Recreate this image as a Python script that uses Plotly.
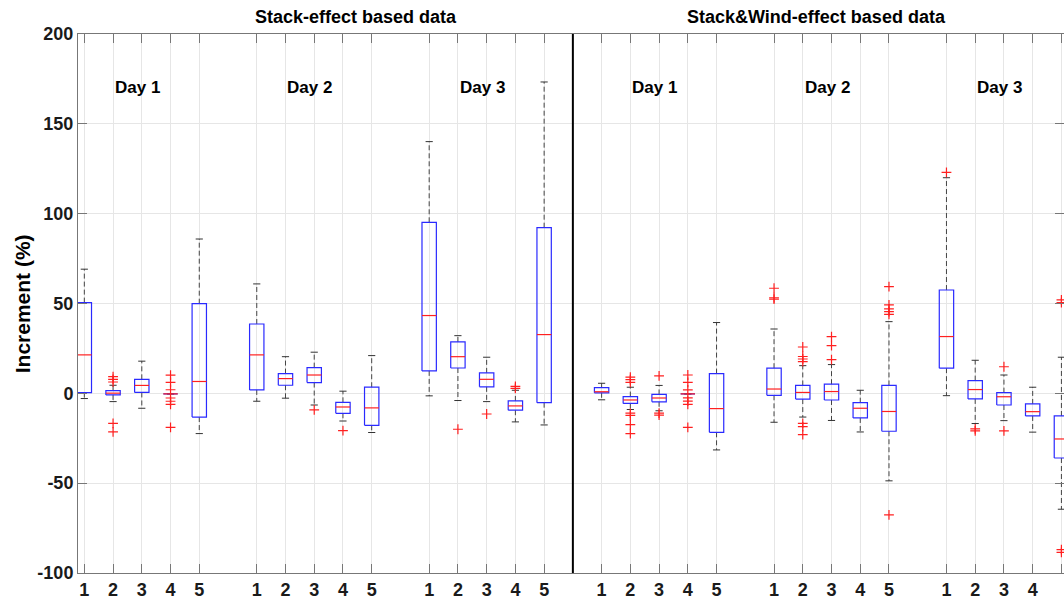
import plotly.graph_objects as go

# ---------------- data ----------------
panel_titles = ["Stack-effect based data", "Stack&Wind-effect based data"]
day_labels = ["Day 1", "Day 2", "Day 3"]
tick_labels = ["1", "2", "3", "4", "5"]

# 30 boxes: panel 1 (days 1-3, boxes 1-5), then panel 2 (days 1-3, boxes 1-5)
upper_whisker = [69.1, 4.5, 17.9, -0.3, 85.9,
                 60.9, 20.4, 22.9, 1.2, 21.0,
                 140.1, 32.1, 20.1, 1.7, 173.3,
                 5.6, 3.4, 4.4, -0.3, 39.4,
                 35.8, 15.4, 16.0, 1.7, 39.9,
                 120.0, 18.4, 10.2, 3.4, 20.1]
q3 = [50.5, 1.5, 7.8, -0.3, 49.9,
      38.6, 11.0, 14.3, -5.0, 3.4,
      95.2, 28.6, 11.4, -4.2, 92.2,
      3.2, -1.8, -0.6, -0.3, 11.0,
      14.0, 4.4, 5.1, -5.2, 4.4,
      57.5, 7.1, 0.4, -5.9, -12.6]
median = [21.4, 0.1, 4.4, -0.3, 6.6,
          21.4, 8.2, 10.2, -7.6, -8.1,
          43.3, 20.4, 7.8, -7.0, 32.7,
          0.9, -3.7, -2.6, -0.3, -8.5,
          2.4, 0.5, 1.0, -8.3, -10.1,
          31.6, 2.1, -1.9, -10.2, -25.4]
q1 = [0.4, -0.9, 0.5, -0.3, -13.2,
      1.9, 4.5, 6.0, -11.1, -17.8,
      12.5, 14.1, 3.6, -9.4, -5.2,
      0.3, -5.6, -4.7, -0.3, -21.7,
      -1.1, -3.2, -3.7, -13.7, -21.1,
      14.0, -3.1, -6.5, -12.6, -36.0]
lower_whisker = [-2.9, -4.6, -8.3, -0.3, -22.4,
                 -4.4, -2.7, -6.5, -15.4, -21.8,
                 -1.4, -4.0, -4.6, -15.9, -17.6,
                 -3.6, -9.0, -9.7, -0.3, -31.5,
                 -16.1, -13.2, -15.1, -21.5, -48.7,
                 -1.3, -16.8, -15.2, -21.6, -64.5]
outliers = [[], [9.3, 7.8, 6.3, -16.7, -21.5], [], [10.1, 6.1, 2.0, -2.6, -4.4, -6.2, -19.0], [],
            [], [], [-9.2], [-20.8], [],
            [], [-20.0], [-11.5], [3.9, 2.8], [],
            [], [9.0, 7.6, 6.1, -11.0, -12.3, -17.4, -22.4], [9.7, -11.0, -12.1],
            [10.2, 6.1, 1.9, -2.5, -4.3, -6.2, -19.0], [],
            [58.5, 53.2, 52.4], [25.8, 20.5, 19.1, 17.7, -16.7, -18.5, -23.0], [31.6, 26.6, 18.8], [],
            [59.4, 49.2, 47.0, 45.5, 44.0, -67.7],
            [123.0], [-19.8, -20.9], [14.8, -20.9], [], [52.0, 50.5, -87.0, -88.5]]

# ---------------- layout of positions ----------------
n_per_group = 5
group_step = 6
positions = [g * group_step + i + 1 for g in range(6) for i in range(n_per_group)]
half_w = 0.25
cap_w = 0.125

box_x, box_y = [], []
med_x, med_y = [], []
wh_x, wh_y = [], []
cap_x, cap_y = [], []
out_x, out_y = [], []
for k, p in enumerate(positions):
    box_x += [p - half_w, p + half_w, p + half_w, p - half_w, p - half_w, None]
    box_y += [q1[k], q1[k], q3[k], q3[k], q1[k], None]
    med_x += [p - half_w, p + half_w, None]
    med_y += [median[k], median[k], None]
    wh_x += [p, p, None, p, p, None]
    wh_y += [q3[k], upper_whisker[k], None, q1[k], lower_whisker[k], None]
    cap_x += [p - cap_w, p + cap_w, None, p - cap_w, p + cap_w, None]
    cap_y += [upper_whisker[k], upper_whisker[k], None, lower_whisker[k], lower_whisker[k], None]
    for v in outliers[k]:
        out_x.append(p)
        out_y.append(v)

FONT = "Liberation Sans, Arial, sans-serif"

fig = go.Figure()
fig.add_trace(go.Scatter(x=wh_x, y=wh_y, mode="lines",
                         line=dict(color="#444444", width=1, dash="5px,3px"), hoverinfo="skip"))
fig.add_trace(go.Scatter(x=cap_x, y=cap_y, mode="lines",
                         line=dict(color="#333333", width=1), hoverinfo="skip"))
fig.add_trace(go.Scatter(x=box_x, y=box_y, mode="lines",
                         line=dict(color="#2a2aff", width=1.2), hoverinfo="skip"))
fig.add_trace(go.Scatter(x=med_x, y=med_y, mode="lines",
                         line=dict(color="#ff2020", width=1.2), hoverinfo="skip"))
fig.add_trace(go.Scatter(x=out_x, y=out_y, mode="markers",
                         marker=dict(symbol="cross-thin", size=7, line=dict(color="#ff2020", width=1.2)),
                         hoverinfo="skip"))

# divider between the two panels
divider = (positions[14] + positions[15]) / 2
fig.add_shape(type="line", xref="x", yref="paper", x0=divider, x1=divider, y0=0, y1=1,
              line=dict(color="black", width=2))

# day labels (left-aligned at the 2nd box of each group)
for g in range(6):
    fig.add_annotation(x=positions[g * n_per_group + 1], y=170, xref="x", yref="y",
                       text=day_labels[g % 3], showarrow=False, xanchor="left", yanchor="middle",
                       font=dict(family=FONT, size=17, color="black", weight="bold"))

# panel titles
for i, t in enumerate(panel_titles):
    fig.add_annotation(x=[10.47, 26.48][i], y=1.0315, xref="x", yref="paper", text=t,
                       showarrow=False, xanchor="center", yanchor="middle",
                       font=dict(family=FONT, size=18, color="black", weight="bold"))

# y-axis title
fig.add_annotation(x=-0.056, y=0.5, xref="paper", yref="paper", text="Increment (%)",
                   textangle=-90, showarrow=False, xanchor="center", yanchor="middle",
                   font=dict(family=FONT, size=21, color="black", weight="bold"))

yticks = [-100, -50, 0, 50, 100, 150, 200]
fig.update_layout(
    width=1064, height=603,
    margin=dict(l=78, r=0, t=34, b=30),
    paper_bgcolor="white", plot_bgcolor="white",
    showlegend=False, hovermode=False,
    font=dict(family=FONT, color="black"),
    xaxis=dict(range=[0.78, 35.09], tickvals=positions,
               ticktext=[tick_labels[i % 5] for i in range(len(positions))],
               showgrid=True, gridcolor="#e6e6e6", gridwidth=1, zeroline=False,
               showline=True, linecolor="#777777", linewidth=1, mirror="ticks",
               ticks="inside", ticklen=9, tickcolor="#777777",
               tickfont=dict(family=FONT, size=18, color="#1a1a1a", weight="bold")),
    yaxis=dict(range=[-100, 200], tickvals=yticks, ticktext=[str(v) for v in yticks],
               showgrid=True, gridcolor="#e6e6e6", gridwidth=1, zeroline=False,
               showline=True, linecolor="#777777", linewidth=1, mirror="ticks",
               ticks="inside", ticklen=9, tickcolor="#777777",
               tickfont=dict(family=FONT, size=18, color="#1a1a1a", weight="bold")),
)

# remove the default page margin so the figure sits at the window's top-left corner
fig.write_html("out.html", config={"displayModeBar": False},
               post_script="document.body.style.margin='0';document.body.style.overflow='hidden';")
